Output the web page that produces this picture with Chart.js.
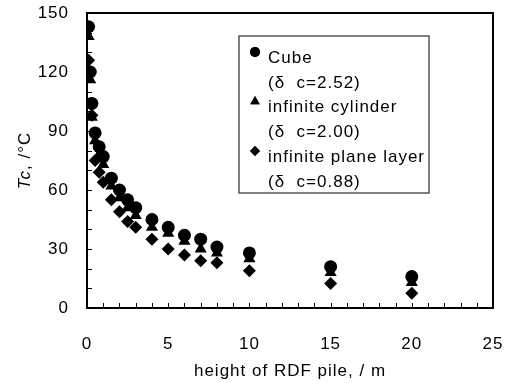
<!DOCTYPE html>
<html>
<head>
<meta charset="utf-8">
<script src="https://cdn.jsdelivr.net/npm/chart.js@4.4.0/dist/chart.umd.min.js"></script>
<style>
  html, body { margin: 0; padding: 0; background: #fff; }
  #wrap { width: 505px; height: 383px; }
</style>
</head>
<body>
<div id="wrap"><canvas id="myChart"></canvas></div>
<script>
// heights of the pile (m)
const heights = [0.1, 0.2, 0.3, 0.5, 0.75, 1, 1.5, 2, 2.5, 3, 4, 5, 6, 7, 8, 10, 15, 20];
// critical temperature Tc (°C) per shape
const cubeTc = [143, 120, 104, 89, 82, 77, 66, 60, 55, 51, 45, 41, 37, 35, 31, 28, 21, 16];
const cylinderTc = [138, 116, 97, 85, 78, 73, 62, 56, 51, 47, 41, 38, 34, 30, 28, 25, 18, 13];
const planeTc = [126, 104, 98, 75, 69, 64, 55, 49, 44, 41, 35, 30, 27, 24, 23, 19, 12.5, 7.5];

const seriesNames = ["Cube", "infinite cylinder", "infinite plane layer"];
const seriesNotes = ["(\u03b4  c=2.52)", "(\u03b4  c=2.00)", "(\u03b4  c=0.88)"];
const seriesShapes = ["circle", "triangle", "rectRot"];

const xTicks = [0, 5, 10, 15, 20, 25];
const yTicks = [0, 30, 60, 90, 120, 150];

const FONT = "'Liberation Sans', Arial, sans-serif";

function toPoints(xs, ys) {
  return xs.map((x, i) => ({ x: x, y: ys[i] }));
}

// box, inward ticks, y title and the legend box
const extras = {
  id: "extras",
  beforeDraw(chart) {
    // the original text is set a little wider than plain Arial
    chart.ctx.letterSpacing = "1px";
  },
  afterDraw(chart) {
    const ctx = chart.ctx;
    const a = chart.chartArea;
    const xs = chart.scales.x;
    const ys = chart.scales.y;
    ctx.save();

    // minor / major ticks pointing inside
    ctx.strokeStyle = "#000";
    ctx.lineWidth = 1;
    ctx.beginPath();
    for (let v = xTicks[0]; v <= xTicks[xTicks.length - 1]; v += 1) {
      const px = Math.round(xs.getPixelForValue(v)) + 0.5;
      ctx.moveTo(px, a.bottom);
      ctx.lineTo(px, a.bottom - 5);
    }
    for (let v = yTicks[0]; v <= yTicks[yTicks.length - 1]; v += 10) {
      const py = Math.round(ys.getPixelForValue(v)) + 0.5;
      ctx.moveTo(a.left, py);
      ctx.lineTo(a.left + 5, py);
    }
    ctx.stroke();

    // plot frame
    ctx.lineWidth = 2;
    ctx.strokeRect(a.left, a.top, a.right - a.left, a.bottom - a.top);

    // y axis title: "Tc" italic, rest upright
    ctx.translate(25, (a.top + a.bottom) / 2);
    ctx.rotate(-Math.PI / 2);
    ctx.fillStyle = "#000";
    ctx.textBaseline = "middle";
    ctx.font = "italic 17px " + FONT;
    const t1 = "Tc";
    const w1 = ctx.measureText(t1).width;
    ctx.font = "17px " + FONT;
    const t2 = ", /\u00b0C";
    const w2 = ctx.measureText(t2).width;
    let sx = -(w1 + w2) / 2;
    ctx.font = "italic 17px " + FONT;
    ctx.textAlign = "left";
    ctx.fillText(t1, sx, 0);
    ctx.font = "17px " + FONT;
    ctx.fillText(t2, sx + w1, 0);
    ctx.restore();

    // legend box
    ctx.save();
    const lx = 239, ly = 36, lw = 190, lh = 157;
    ctx.fillStyle = "#fff";
    ctx.fillRect(lx, ly, lw, lh);
    ctx.strokeStyle = "#555";
    ctx.lineWidth = 1.5;
    ctx.strokeRect(lx, ly, lw, lh);
    ctx.fillStyle = "#000";
    ctx.font = "17px " + FONT;
    ctx.textAlign = "left";
    ctx.textBaseline = "middle";
    for (let i = 0; i < seriesNames.length; i++) {
      const rowY = 58 + i * 49.5;
      Chart.helpers.drawPoint(ctx, {
        pointStyle: seriesShapes[i],
        radius: seriesShapes[i] === "triangle" ? 5.5 : 5,
        rotation: 0,
        borderWidth: 0
      }, 255, rowY - 6);
      ctx.fill();
      ctx.fillText(seriesNames[i], 268, rowY);
      ctx.fillText(seriesNotes[i], 268, rowY + 25);
    }
    ctx.restore();
  }
};

const ctx = document.getElementById("myChart");
new Chart(ctx, {
  type: "scatter",
  data: {
    datasets: [
      { label: seriesNames[0], data: toPoints(heights, cubeTc), pointStyle: "circle", pointRadius: 6.5 },
      { label: seriesNames[1], data: toPoints(heights, cylinderTc), pointStyle: "triangle", pointRadius: 7 },
      { label: seriesNames[2], data: toPoints(heights, planeTc), pointStyle: "rectRot", pointRadius: 6.5 }
    ].map(ds => Object.assign(ds, {
      backgroundColor: "#000",
      borderColor: "#000",
      borderWidth: 0,
      pointHoverRadius: ds.pointRadius
    }))
  },
  options: {
    responsive: true,
    maintainAspectRatio: false,
    animation: false,
    layout: { padding: { left: 0, right: 12, top: 13, bottom: 0 } },
    plugins: {
      legend: { display: false },
      tooltip: { enabled: false }
    },
    scales: {
      x: {
        type: "linear",
        min: 0,
        max: 25,
        afterBuildTicks: s => { s.ticks = xTicks.map(v => ({ value: v })); },
        // fixed height, and no extra side padding from the tick labels
        afterFit: s => { s.height = 75; s.paddingLeft = 0; s.paddingRight = 0; },
        grid: { display: false, drawTicks: false },
        border: { display: false },
        ticks: { color: "#000", font: { family: FONT, size: 17 }, padding: 26, maxRotation: 0 },
        title: {
          display: true,
          text: "height of RDF pile, / m",
          color: "#000",
          font: { family: FONT, size: 17 },
          padding: { top: 0, bottom: 1 }
        }
      },
      y: {
        type: "linear",
        min: 0,
        max: 150,
        afterBuildTicks: s => { s.ticks = yTicks.map(v => ({ value: v })); },
        afterFit: s => { s.width = 87; s.paddingTop = 0; s.paddingBottom = 0; },
        grid: { display: false, drawTicks: false },
        border: { display: false },
        ticks: { color: "#000", font: { family: FONT, size: 17 }, padding: 18 }
      }
    }
  },
  plugins: [extras]
});
</script>
</body>
</html>
